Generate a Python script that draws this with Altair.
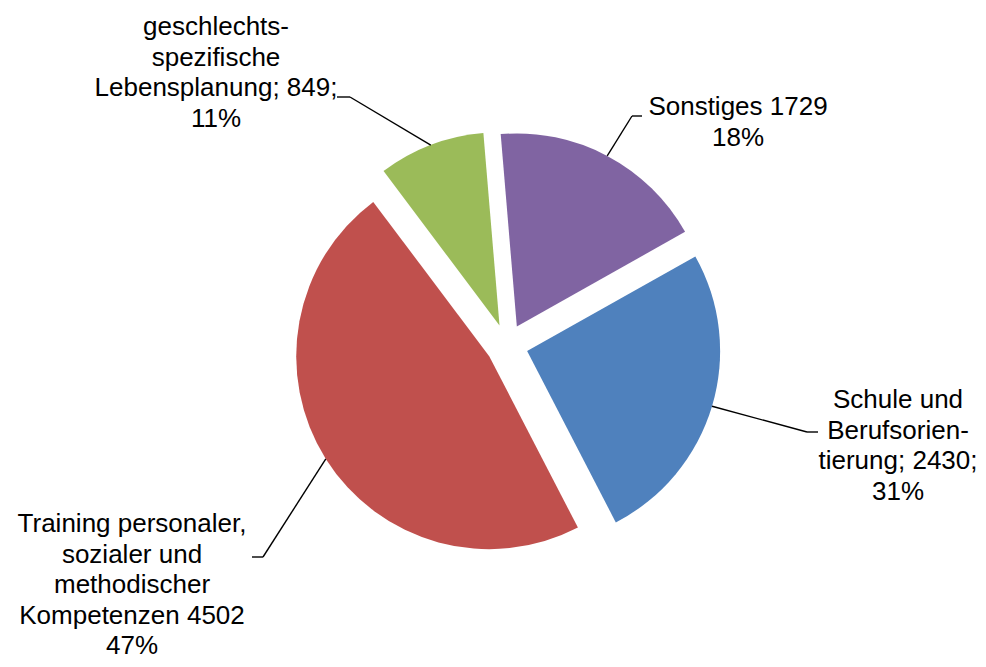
import altair as alt
import pandas as pd

# ---- data -------------------------------------------------------------
categories = [
    "Sonstiges",
    "Schule und Berufsorientierung",
    "Training personaler, sozialer und methodischer Kompetenzen",
    "geschlechtsspezifische Lebensplanung",
]
values = [1729, 2430, 4502, 849]
label_texts = [
    "Sonstiges 1729\n18%",
    "Schule und\nBerufsorien-\ntierung; 2430;\n31%",
    "Training personaler,\nsozialer und\nmethodischer\nKompetenzen 4502\n47%",
    "geschlechts-\nspezifische\nLebensplanung; 849;\n11%",
]
colors = ["#8064A2", "#4F81BD", "#C0504D", "#9BBB59"]

# ---- layout (plot-area pixels) ---------------------------------------
W, H = 970, 651
CX, CY = 499, 337          # pie centre
R = 193                    # pie radius
EXPLODE = 21               # slice explosion distance
ROT_DEG = -4.8             # first slice angle

label_x = [730, 890, 124, 208]
label_y = [86, 379, 503, 6]
elbow_x = [624, 799, 255, 342]
elbow_y = [108, 424, 549, 89]
end_x = [634, 810, 244, 329]

df = pd.DataFrame({
    "idx": list(range(len(categories))),
    "category": categories,
    "value": values,
    "label": label_texts,
    "lx": label_x,
    "ly": label_y,
    "ex": elbow_x,
    "ey": elbow_y,
    "hx": end_x,
})

base = (
    alt.Chart(df)
    .transform_joinaggregate(total="sum(value)")
    .transform_window(cum="sum(value)", sort=[alt.SortField("idx")], frame=[None, 0])
    .transform_calculate(
        t0=f"(datum.cum - datum.value) / datum.total * 2 * PI + {ROT_DEG} * PI / 180",
        t1=f"datum.cum / datum.total * 2 * PI + {ROT_DEG} * PI / 180",
    )
    .transform_calculate(mid="(datum.t0 + datum.t1) / 2")
    .transform_calculate(
        cx=f"{CX} + {EXPLODE} * sin(datum.mid)",
        cy=f"{CY} - {EXPLODE} * cos(datum.mid)",
    )
    .transform_calculate(
        sx=f"datum.cx + {R} * sin(datum.mid)",
        sy=f"datum.cy - {R} * cos(datum.mid)",
    )
)

arcs = base.mark_arc(radius=R).encode(
    theta=alt.Theta("t0:Q", scale=None),
    theta2="t1:Q",
    x=alt.X("cx:Q", scale=None),
    y=alt.Y("cy:Q", scale=None),
    color=alt.Color(
        "category:N",
        scale=alt.Scale(domain=categories, range=colors),
        legend=None,
    ),
)

lead1 = base.mark_rule(color="black", strokeWidth=1.4).encode(
    x=alt.X("sx:Q", scale=None),
    y=alt.Y("sy:Q", scale=None),
    x2="ex:Q",
    y2="ey:Q",
)

lead2 = base.mark_rule(color="black", strokeWidth=1.4).encode(
    x=alt.X("ex:Q", scale=None),
    y=alt.Y("ey:Q", scale=None),
    x2="hx:Q",
    y2="ey:Q",
)

labels = base.mark_text(
    font="Liberation Sans",
    fontSize=26,
    lineHeight=30.5,
    lineBreak="\n",
    align="center",
    baseline="top",
    color="black",
).encode(
    x=alt.X("lx:Q", scale=None),
    y=alt.Y("ly:Q", scale=None),
    text="label:N",
)

chart = (
    alt.layer(arcs, lead1, lead2, labels)
    .properties(width=W, height=H, autosize=alt.AutoSizeParams(type="none"), padding=0)
    .configure_view(stroke=None)
)

chart.save("out.html", embed_options={"renderer": "svg", "actions": False})
